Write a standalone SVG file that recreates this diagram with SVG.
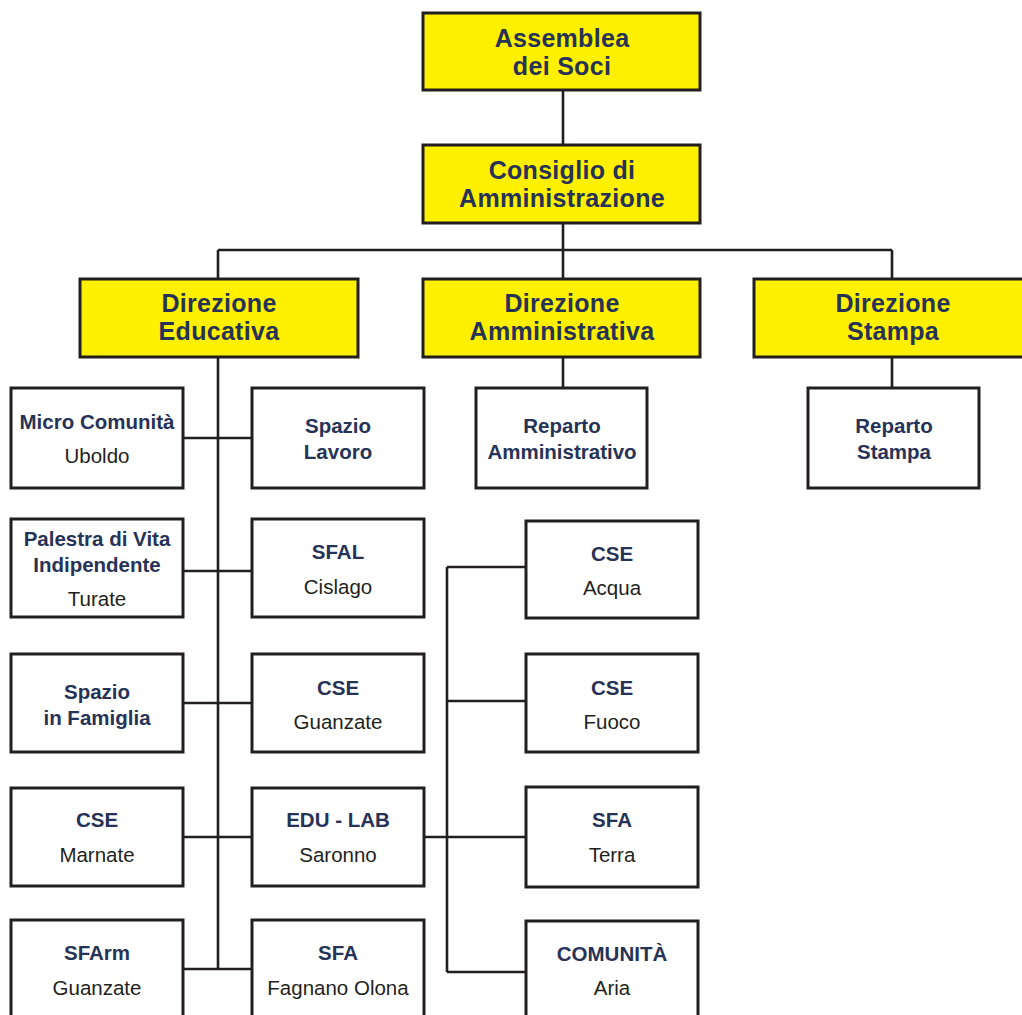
<svg xmlns="http://www.w3.org/2000/svg" width="1022" height="1015" viewBox="0 0 1022 1015">
<style>
.y{fill:#FFF000;stroke:#231F20;stroke-width:3}
.w{fill:#FFFFFF;stroke:#231F20;stroke-width:3}
.t{font-family:"Liberation Sans",Arial,sans-serif;font-weight:bold;font-size:25px;letter-spacing:0.3px;fill:#263357;text-anchor:middle}
.b{font-family:"Liberation Sans",Arial,sans-serif;font-weight:bold;font-size:20.5px;fill:#263357;text-anchor:middle}
.r{font-family:"Liberation Sans",Arial,sans-serif;font-size:20.5px;fill:#231F20;text-anchor:middle}
.c{fill:none;stroke:#231F20;stroke-width:2.6}
</style>
<rect width="1022" height="1015" fill="#FFFFFF"/>
<g id="connectors">
<path class="c" d="M563 90V145M563 223V279M218 250H892M218 250V279M892 250V279M563 357V388M892 357V388"/>
<path class="c" d="M218 357V969M183 438H252M183 571H252M183 703H252M183 837H252M183 969H252"/>
<path class="c" d="M424 837H526M447 567V972M447 567H526M447 701H526M447 972H526"/>
</g>
<g id="assemblea"><rect class="y" x="423" y="13" width="277" height="77"/><text class="t" x="562" y="47">Assemblea</text><text class="t" x="562" y="75">dei Soci</text></g>
<g id="consiglio"><rect class="y" x="423" y="145" width="277" height="78"/><text class="t" x="562" y="179">Consiglio di</text><text class="t" x="562" y="207">Amministrazione</text></g>
<g id="dir-educativa"><rect class="y" x="80" y="279" width="278" height="78"/><text class="t" x="219" y="312">Direzione</text><text class="t" x="219" y="340">Educativa</text></g>
<g id="dir-amministrativa"><rect class="y" x="423" y="279" width="277" height="78"/><text class="t" x="562" y="312">Direzione</text><text class="t" x="562" y="340">Amministrativa</text></g>
<g id="dir-stampa"><rect class="y" x="754" y="279" width="280" height="78"/><text class="t" x="893" y="312">Direzione</text><text class="t" x="893" y="340">Stampa</text></g>
<g id="rep-amm"><rect class="w" x="476" y="388" width="171" height="100"/><text class="b" x="562" y="433">Reparto</text><text class="b" x="562" y="459">Amministrativo</text></g>
<g id="rep-stampa"><rect class="w" x="808" y="388" width="171" height="100"/><text class="b" x="894" y="433">Reparto</text><text class="b" x="894" y="459">Stampa</text></g>
<g id="micro"><rect class="w" x="11" y="388" width="172" height="100"/><text class="b" x="97" y="429">Micro Comunità</text><text class="r" x="97" y="463">Uboldo</text></g>
<g id="spazio-lavoro"><rect class="w" x="252" y="388" width="172" height="100"/><text class="b" x="338" y="433">Spazio</text><text class="b" x="338" y="459">Lavoro</text></g>
<g id="palestra"><rect class="w" x="11" y="519" width="172" height="98"/><text class="b" x="97" y="546">Palestra di Vita</text><text class="b" x="97" y="572">Indipendente</text><text class="r" x="97" y="606">Turate</text></g>
<g id="sfal"><rect class="w" x="252" y="519" width="172" height="98"/><text class="b" x="338" y="559">SFAL</text><text class="r" x="338" y="594">Cislago</text></g>
<g id="famiglia"><rect class="w" x="11" y="654" width="172" height="98"/><text class="b" x="97" y="699">Spazio</text><text class="b" x="97" y="725">in Famiglia</text></g>
<g id="cse-guanzate"><rect class="w" x="252" y="654" width="172" height="98"/><text class="b" x="338" y="695">CSE</text><text class="r" x="338" y="729">Guanzate</text></g>
<g id="cse-marnate"><rect class="w" x="11" y="788" width="172" height="98"/><text class="b" x="97" y="827">CSE</text><text class="r" x="97" y="862">Marnate</text></g>
<g id="edu-lab"><rect class="w" x="252" y="788" width="172" height="98"/><text class="b" x="338" y="827">EDU - LAB</text><text class="r" x="338" y="862">Saronno</text></g>
<g id="sfarm"><rect class="w" x="11" y="920" width="172" height="100"/><text class="b" x="97" y="960">SFArm</text><text class="r" x="97" y="995">Guanzate</text></g>
<g id="sfa-fagnano"><rect class="w" x="252" y="920" width="172" height="100"/><text class="b" x="338" y="960">SFA</text><text class="r" x="338" y="995">Fagnano Olona</text></g>
<g id="cse-acqua"><rect class="w" x="526" y="521" width="172" height="97"/><text class="b" x="612" y="561">CSE</text><text class="r" x="612" y="595">Acqua</text></g>
<g id="cse-fuoco"><rect class="w" x="526" y="654" width="172" height="98"/><text class="b" x="612" y="695">CSE</text><text class="r" x="612" y="729">Fuoco</text></g>
<g id="sfa-terra"><rect class="w" x="526" y="787" width="172" height="100"/><text class="b" x="612" y="827">SFA</text><text class="r" x="612" y="862">Terra</text></g>
<g id="comunita-aria"><rect class="w" x="526" y="921" width="172" height="100"/><text class="b" x="612" y="961">COMUNITÀ</text><text class="r" x="612" y="995">Aria</text></g>
</svg>
